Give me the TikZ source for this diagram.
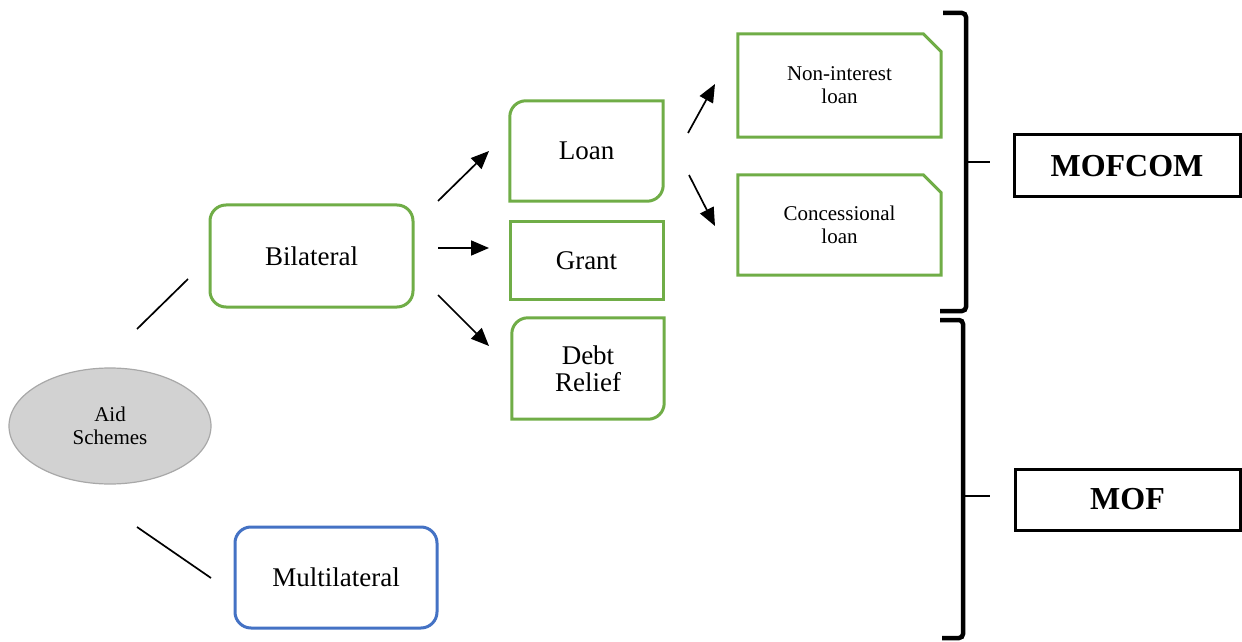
\documentclass[tikz,border=0pt]{standalone}
\usepackage{fontspec}
\setmainfont{Liberation Serif}
\usetikzlibrary{arrows.meta,shapes.geometric}
\definecolor{gbox}{HTML}{70AD47}
\definecolor{bbox}{HTML}{4472C4}
\definecolor{ellfill}{HTML}{D2D2D2}
\definecolor{elledge}{HTML}{A8A8A8}
\tikzset{
  x=1pt,y=1pt,
  txt/.style={inner sep=0pt, align=center},
  big/.style={font=\fontsize{27}{27}\selectfont},
  mid/.style={font=\fontsize{21}{23}\selectfont},
  boss/.style={font=\bfseries\fontsize{32}{32}\selectfont},
  greenline/.style={draw=gbox, line width=3pt},
  arr/.style={line width=1.7pt, -{Triangle[length=18pt,width=15pt]}},
  plain/.style={line width=1.7pt},
  brack/.style={line width=4.5pt, rounded corners=4pt},
}
\begin{document}
\begin{tikzpicture}
\useasboundingbox (0,0) rectangle (1242,641);
% ellipse
\node[ellipse, draw=elledge, fill=ellfill, line width=1.2pt, minimum width=202, minimum height=116, txt, mid] (aid) at (110,215) {Aid\\Schemes};
% Bilateral / Multilateral
\node[draw=gbox, line width=3pt, rounded corners=16pt, minimum width=203, minimum height=102, txt, big] (bil) at (311.5,385) {Bilateral};
\node[draw=bbox, line width=3pt, rounded corners=16pt, minimum width=202, minimum height=101, txt, big] (mul) at (336,63.5) {Multilateral};
% Loan (rounded TL and BR)
\node[minimum width=153, minimum height=100, txt, big] (loan) at (586.5,490) {\raisebox{-2pt}{Loan}};
\draw[greenline] ([xshift=16]loan.north west) -- (loan.north east) -- ([yshift=16]loan.south east)
  arc[start angle=0, end angle=-90, radius=16] -- (loan.south west) -- ([yshift=-16]loan.north west)
  arc[start angle=180, end angle=90, radius=16] -- cycle;
% Grant
\node[draw=gbox, line width=3pt, minimum width=153, minimum height=77, txt, big] (grant) at (586.5,380.5) {Grant};
% Debt Relief
\node[minimum width=152, minimum height=101, txt, big] (debt) at (588,272.5) {Debt\\Relief};
\draw[greenline] ([xshift=16]debt.north west) -- (debt.north east) -- ([yshift=16]debt.south east)
  arc[start angle=0, end angle=-90, radius=16] -- (debt.south west) -- ([yshift=-16]debt.north west)
  arc[start angle=180, end angle=90, radius=16] -- cycle;
% snipped boxes
\node[minimum width=203, minimum height=103, txt, mid] (nil) at (839.5,555.5) {Non-interest\\loan};
\draw[greenline] (nil.north west) -- ([xshift=-18]nil.north east) -- ([yshift=-18]nil.north east) -- (nil.south east) -- (nil.south west) -- cycle;
\node[minimum width=203, minimum height=100, txt, mid] (cl) at (839.5,416) {Concessional\\loan};
\draw[greenline] (cl.north west) -- ([xshift=-18]cl.north east) -- ([yshift=-18]cl.north east) -- (cl.south east) -- (cl.south west) -- cycle;
% ministries
\node[draw=black, line width=3pt, minimum width=226, minimum height=62, txt, boss] (mofcom) at (1127,475) {MOFCOM};
\node[draw=black, line width=3pt, minimum width=225, minimum height=61, txt, boss] (mof) at (1127.5,141.5) {MOF};
% coordinates for floating connectors
\coordinate (l1a) at (137,312); \coordinate (l1b) at (188,362);
\coordinate (l2a) at (137,114); \coordinate (l2b) at (211,63);
\coordinate (a1a) at (438,440); \coordinate (a1b) at (489,490);
\coordinate (a2a) at (438,393); \coordinate (a2b) at (489,393);
\coordinate (a3a) at (438,346); \coordinate (a3b) at (489,295);
\coordinate (a4a) at (688,508); \coordinate (a4b) at (715,557);
\coordinate (a5a) at (689,466); \coordinate (a5b) at (715,415);
\draw[plain] (l1a) -- (l1b);
\draw[plain] (l2a) -- (l2b);
\draw[arr] (a1a) -- (a1b);
\draw[arr] (a2a) -- (a2b);
\draw[arr] (a3a) -- (a3b);
\draw[arr] (a4a) -- (a4b);
\draw[arr] (a5a) -- (a5b);
% brackets
\coordinate (b1t) at (943,628); \coordinate (b1b) at (940,330); \coordinate (b1m) at (966,479);
\coordinate (b2t) at (940,321); \coordinate (b2b) at (942,3); \coordinate (b2m) at (963,145);
\draw[brack] (b1t) -- (966,628) -- (966,330) -- (b1b);
\draw[line width=2.8pt] (b1m) -- (990,479);
\draw[brack] (b2t) -- (963,321) -- (963,3) -- (b2b);
\draw[line width=2.8pt] (b2m) -- (990,145);
\end{tikzpicture}
\end{document}
